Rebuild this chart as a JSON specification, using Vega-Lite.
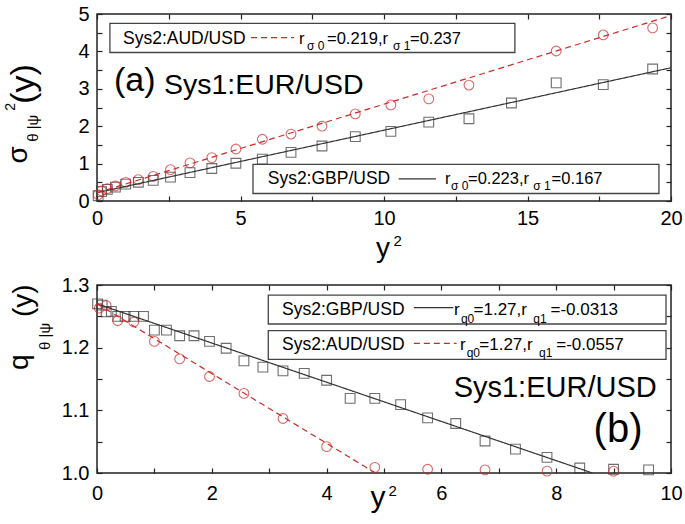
{
"$schema": "https://vega.github.io/schema/vega-lite/v6.json",
"background": "white",
"padding": {"left": 3, "top": 3, "right": 5, "bottom": 3},
"bounds": "flush",
"spacing": 84,
"config": {
  "view": {"stroke": "#222", "strokeWidth": 1.5},
  "axis": {"labelFont": "Liberation Sans", "labelFontSize": 20, "labelColor": "black", "tickColor": "#222", "tickWidth": 1.2, "grid": false, "domain": false, "title": null, "labelFlush": false, "labelOverlap": false},
  "text": {"font": "Liberation Sans", "color": "black", "align": "left", "baseline": "alphabetic"}
},
"datasets": {
  "a_pts": [
    {"pair": "GBP", "x": 0.04, "y": 0.14}, {"pair": "GBP", "x": 0.16, "y": 0.25}, {"pair": "GBP", "x": 0.36, "y": 0.31}, {"pair": "GBP", "x": 0.64, "y": 0.37},
    {"pair": "GBP", "x": 1.0, "y": 0.45}, {"pair": "GBP", "x": 1.44, "y": 0.5}, {"pair": "GBP", "x": 1.96, "y": 0.55}, {"pair": "GBP", "x": 2.56, "y": 0.64},
    {"pair": "GBP", "x": 3.24, "y": 0.76}, {"pair": "GBP", "x": 4.0, "y": 0.87}, {"pair": "GBP", "x": 4.84, "y": 1.01}, {"pair": "GBP", "x": 5.76, "y": 1.12},
    {"pair": "GBP", "x": 6.76, "y": 1.3}, {"pair": "GBP", "x": 7.84, "y": 1.47}, {"pair": "GBP", "x": 9.0, "y": 1.72}, {"pair": "GBP", "x": 10.24, "y": 1.86},
    {"pair": "GBP", "x": 11.56, "y": 2.11}, {"pair": "GBP", "x": 12.96, "y": 2.2}, {"pair": "GBP", "x": 14.44, "y": 2.62}, {"pair": "GBP", "x": 16.0, "y": 3.16},
    {"pair": "GBP", "x": 17.64, "y": 3.11}, {"pair": "GBP", "x": 19.36, "y": 3.53},
    {"pair": "AUD", "x": 0.04, "y": 0.17}, {"pair": "AUD", "x": 0.16, "y": 0.27}, {"pair": "AUD", "x": 0.36, "y": 0.33}, {"pair": "AUD", "x": 0.64, "y": 0.4},
    {"pair": "AUD", "x": 1.0, "y": 0.5}, {"pair": "AUD", "x": 1.44, "y": 0.57}, {"pair": "AUD", "x": 1.96, "y": 0.66}, {"pair": "AUD", "x": 2.56, "y": 0.84},
    {"pair": "AUD", "x": 3.24, "y": 1.02}, {"pair": "AUD", "x": 4.0, "y": 1.16}, {"pair": "AUD", "x": 4.84, "y": 1.39}, {"pair": "AUD", "x": 5.76, "y": 1.65},
    {"pair": "AUD", "x": 6.76, "y": 1.79}, {"pair": "AUD", "x": 7.84, "y": 2.0}, {"pair": "AUD", "x": 9.0, "y": 2.33}, {"pair": "AUD", "x": 10.24, "y": 2.57},
    {"pair": "AUD", "x": 11.56, "y": 2.73}, {"pair": "AUD", "x": 12.96, "y": 3.1}, {"pair": "AUD", "x": 16.0, "y": 4.01}, {"pair": "AUD", "x": 17.64, "y": 4.44},
    {"pair": "AUD", "x": 19.36, "y": 4.63}
  ],
  "a_fit": [
    {"pair": "GBP", "x": 0, "y": 0.223}, {"pair": "GBP", "x": 20, "y": 3.563},
    {"pair": "AUD", "x": 0, "y": 0.219}, {"pair": "AUD", "x": 20, "y": 4.959}
  ],
  "b_pts": [
    {"pair": "GBP", "x": 0.01, "y": 1.27}, {"pair": "GBP", "x": 0.09, "y": 1.268}, {"pair": "GBP", "x": 0.16, "y": 1.257}, {"pair": "GBP", "x": 0.25, "y": 1.258},
    {"pair": "GBP", "x": 0.36, "y": 1.25}, {"pair": "GBP", "x": 0.49, "y": 1.25}, {"pair": "GBP", "x": 0.64, "y": 1.25}, {"pair": "GBP", "x": 0.81, "y": 1.25},
    {"pair": "GBP", "x": 1.0, "y": 1.228}, {"pair": "GBP", "x": 1.21, "y": 1.228}, {"pair": "GBP", "x": 1.44, "y": 1.219}, {"pair": "GBP", "x": 1.69, "y": 1.219},
    {"pair": "GBP", "x": 1.96, "y": 1.21}, {"pair": "GBP", "x": 2.25, "y": 1.199}, {"pair": "GBP", "x": 2.56, "y": 1.179}, {"pair": "GBP", "x": 2.89, "y": 1.169},
    {"pair": "GBP", "x": 3.24, "y": 1.163}, {"pair": "GBP", "x": 3.61, "y": 1.159}, {"pair": "GBP", "x": 4.0, "y": 1.148}, {"pair": "GBP", "x": 4.41, "y": 1.119},
    {"pair": "GBP", "x": 4.84, "y": 1.119}, {"pair": "GBP", "x": 5.29, "y": 1.109}, {"pair": "GBP", "x": 5.76, "y": 1.088}, {"pair": "GBP", "x": 6.25, "y": 1.079},
    {"pair": "GBP", "x": 6.76, "y": 1.051}, {"pair": "GBP", "x": 7.29, "y": 1.038}, {"pair": "GBP", "x": 7.84, "y": 1.025}, {"pair": "GBP", "x": 8.41, "y": 1.008},
    {"pair": "GBP", "x": 9.0, "y": 1.006}, {"pair": "GBP", "x": 9.61, "y": 1.005},
    {"pair": "AUD", "x": 0.04, "y": 1.263}, {"pair": "AUD", "x": 0.16, "y": 1.267}, {"pair": "AUD", "x": 0.36, "y": 1.243}, {"pair": "AUD", "x": 0.64, "y": 1.241},
    {"pair": "AUD", "x": 1.0, "y": 1.21}, {"pair": "AUD", "x": 1.44, "y": 1.182}, {"pair": "AUD", "x": 1.96, "y": 1.154}, {"pair": "AUD", "x": 2.56, "y": 1.127},
    {"pair": "AUD", "x": 3.24, "y": 1.087}, {"pair": "AUD", "x": 4.0, "y": 1.042}, {"pair": "AUD", "x": 4.84, "y": 1.009}, {"pair": "AUD", "x": 5.76, "y": 1.006},
    {"pair": "AUD", "x": 6.76, "y": 1.005}, {"pair": "AUD", "x": 7.84, "y": 1.003}, {"pair": "AUD", "x": 9.0, "y": 1.003}
  ],
  "b_fit": [
    {"pair": "GBP", "x": 0, "y": 1.27}, {"pair": "GBP", "x": 8.63, "y": 1.0},
    {"pair": "AUD", "x": 0, "y": 1.27}, {"pair": "AUD", "x": 4.85, "y": 1.0}
  ]
},
"vconcat": [
{
  "width": 574, "height": 187,
  "resolve": {"axis": {"x": "independent", "y": "independent"}},
  "layer": [
    {"data": {"name": "a_pts"},
     "mark": {"type": "point", "filled": false, "size": 95, "strokeWidth": 1.1},
     "encoding": {
       "x": {"field": "x", "type": "quantitative", "scale": {"domain": [0, 20], "nice": false},
             "axis": {"orient": "bottom", "values": [0, 2.5, 5, 7.5, 10, 12.5, 15, 17.5, 20], "labelExpr": "datum.value % 5 === 0 ? format(datum.value, 'd') : ''", "tickSize": -5, "labelPadding": 12}},
       "y": {"field": "y", "type": "quantitative", "scale": {"domain": [0, 5], "nice": false},
             "axis": {"orient": "left", "values": [0, 0.5, 1, 1.5, 2, 2.5, 3, 3.5, 4, 4.5, 5], "labelExpr": "datum.value % 1 === 0 ? format(datum.value, 'd') : ''", "tickSize": -5, "labelPadding": 13}},
       "shape": {"field": "pair", "scale": {"domain": ["GBP", "AUD"], "range": ["square", "circle"]}, "legend": null},
       "color": {"field": "pair", "scale": {"domain": ["GBP", "AUD"], "range": ["#333333", "#cc2a2a"]}, "legend": null}
     }},
    {"data": {"name": "a_fit"},
     "mark": {"type": "line", "strokeWidth": 1.2},
     "encoding": {
       "x": {"field": "x", "type": "quantitative", "scale": {"domain": [0, 20], "nice": false},
             "axis": {"orient": "top", "values": [0, 2.5, 5, 7.5, 10, 12.5, 15, 17.5, 20], "labels": false, "tickSize": -5}},
       "y": {"field": "y", "type": "quantitative", "scale": {"domain": [0, 5], "nice": false},
             "axis": {"orient": "right", "values": [0, 0.5, 1, 1.5, 2, 2.5, 3, 3.5, 4, 4.5, 5], "labels": false, "tickSize": -5}},
       "color": {"field": "pair", "scale": {"domain": ["GBP", "AUD"], "range": ["#333333", "#cc2a2a"]}, "legend": null},
       "strokeDash": {"field": "pair", "scale": {"domain": ["GBP", "AUD"], "range": [[1, 0], [6, 4]]}, "legend": null}
     }},
    {"data": {"values": [{}]}, "mark": {"type": "rect", "fillOpacity": 0, "stroke": "#444", "strokeWidth": 1.3},
     "encoding": {"x": {"datum": 0.45, "type": "quantitative", "axis": null}, "x2": {"datum": 14.56}, "y": {"datum": 3.97, "type": "quantitative", "axis": null}, "y2": {"datum": 4.75}}},
    {"data": {"values": [{}]}, "mark": {"type": "rect", "fillOpacity": 0, "stroke": "#444", "strokeWidth": 1.3},
     "encoding": {"x": {"datum": 5.435, "type": "quantitative", "axis": null}, "x2": {"datum": 19.58}, "y": {"datum": 0.2, "type": "quantitative", "axis": null}, "y2": {"datum": 0.98}}},
    {"data": {"values": [{}]}, "mark": {"type": "rule", "stroke": "#cc2a2a", "strokeWidth": 1.2, "strokeDash": [6, 4]},
     "encoding": {"x": {"datum": 5.366, "type": "quantitative", "axis": null}, "x2": {"datum": 6.864}, "y": {"datum": 4.37, "type": "quantitative", "axis": null}}},
    {"data": {"values": [{}]}, "mark": {"type": "rule", "stroke": "#333333", "strokeWidth": 1.2},
     "encoding": {"x": {"datum": 10.51, "type": "quantitative", "axis": null}, "x2": {"datum": 11.81}, "y": {"datum": 0.59, "type": "quantitative", "axis": null}}},
    {"data": {"values": [{}]}, "mark": {"type": "text", "text": "Sys2:AUD/USD", "fontSize": 17.5},
     "encoding": {"x": {"datum": 0.906, "type": "quantitative", "axis": null}, "y": {"datum": 4.196, "type": "quantitative", "axis": null}}},
    {"data": {"values": [{}]}, "mark": {"type": "text", "text": "r", "fontSize": 16.5},
     "encoding": {"x": {"datum": 7.038, "type": "quantitative", "axis": null}, "y": {"datum": 4.196, "type": "quantitative", "axis": null}}},
    {"data": {"values": [{}]}, "mark": {"type": "text", "text": "σ 0", "fontSize": 12},
     "encoding": {"x": {"datum": 7.317, "type": "quantitative", "axis": null}, "y": {"datum": 4.04, "type": "quantitative", "axis": null}}},
    {"data": {"values": [{}]}, "mark": {"type": "text", "text": "=0.219,r", "fontSize": 16.5},
     "encoding": {"x": {"datum": 8.014, "type": "quantitative", "axis": null}, "y": {"datum": 4.196, "type": "quantitative", "axis": null}}},
    {"data": {"values": [{}]}, "mark": {"type": "text", "text": "σ 1", "fontSize": 12},
     "encoding": {"x": {"datum": 10.314, "type": "quantitative", "axis": null}, "y": {"datum": 4.04, "type": "quantitative", "axis": null}}},
    {"data": {"values": [{}]}, "mark": {"type": "text", "text": "=0.237", "fontSize": 16.5},
     "encoding": {"x": {"datum": 10.906, "type": "quantitative", "axis": null}, "y": {"datum": 4.196, "type": "quantitative", "axis": null}}},
    {"data": {"values": [{}]}, "mark": {"type": "text", "text": "Sys2:GBP/USD", "fontSize": 17.5},
     "encoding": {"x": {"datum": 5.948, "type": "quantitative", "axis": null}, "y": {"datum": 0.448, "type": "quantitative", "axis": null}}},
    {"data": {"values": [{}]}, "mark": {"type": "text", "text": "r", "fontSize": 16.5},
     "encoding": {"x": {"datum": 12.125, "type": "quantitative", "axis": null}, "y": {"datum": 0.448, "type": "quantitative", "axis": null}}},
    {"data": {"values": [{}]}, "mark": {"type": "text", "text": "σ 0", "fontSize": 12},
     "encoding": {"x": {"datum": 12.334, "type": "quantitative", "axis": null}, "y": {"datum": 0.287, "type": "quantitative", "axis": null}}},
    {"data": {"values": [{}]}, "mark": {"type": "text", "text": "=0.223,r", "fontSize": 16.5},
     "encoding": {"x": {"datum": 12.927, "type": "quantitative", "axis": null}, "y": {"datum": 0.448, "type": "quantitative", "axis": null}}},
    {"data": {"values": [{}]}, "mark": {"type": "text", "text": "σ 1", "fontSize": 12},
     "encoding": {"x": {"datum": 15.2, "type": "quantitative", "axis": null}, "y": {"datum": 0.287, "type": "quantitative", "axis": null}}},
    {"data": {"values": [{}]}, "mark": {"type": "text", "text": "=0.167", "fontSize": 16.5},
     "encoding": {"x": {"datum": 15.84, "type": "quantitative", "axis": null}, "y": {"datum": 0.448, "type": "quantitative", "axis": null}}},
    {"data": {"values": [{}]}, "mark": {"type": "text", "text": "(a)", "fontSize": 34},
     "encoding": {"x": {"datum": 0.592, "type": "quantitative", "axis": null}, "y": {"datum": 2.93, "type": "quantitative", "axis": null}}},
    {"data": {"values": [{}]}, "mark": {"type": "text", "text": "Sys1:EUR/USD", "fontSize": 28.5},
     "encoding": {"x": {"datum": 2.334, "type": "quantitative", "axis": null}, "y": {"datum": 2.86, "type": "quantitative", "axis": null}}},
    {"data": {"values": [{}]}, "mark": {"type": "text", "text": "σ", "fontSize": 28, "angle": 270},
     "encoding": {"x": {"datum": -2.45, "type": "quantitative", "axis": null}, "y": {"datum": 1.0, "type": "quantitative", "axis": null}}},
    {"data": {"values": [{}]}, "mark": {"type": "text", "text": "θ |ψ", "fontSize": 15, "angle": 270},
     "encoding": {"x": {"datum": -2.056, "type": "quantitative", "axis": null}, "y": {"datum": 1.582, "type": "quantitative", "axis": null}}},
    {"data": {"values": [{}]}, "mark": {"type": "text", "text": "2", "fontSize": 14, "angle": 270},
     "encoding": {"x": {"datum": -2.84, "type": "quantitative", "axis": null}, "y": {"datum": 2.41, "type": "quantitative", "axis": null}}},
    {"data": {"values": [{}]}, "mark": {"type": "text", "text": "(y)", "fontSize": 34, "angle": 270},
     "encoding": {"x": {"datum": -2.2, "type": "quantitative", "axis": null}, "y": {"datum": 2.6, "type": "quantitative", "axis": null}}},
    {"data": {"values": [{}]}, "mark": {"type": "text", "text": "y", "fontSize": 28},
     "encoding": {"x": {"datum": 9.72, "type": "quantitative", "axis": null}, "y": {"datum": -1.5, "type": "quantitative", "axis": null}}},
    {"data": {"values": [{}]}, "mark": {"type": "text", "text": "2", "fontSize": 15},
     "encoding": {"x": {"datum": 10.33, "type": "quantitative", "axis": null}, "y": {"datum": -1.21, "type": "quantitative", "axis": null}}}
  ]
},
{
  "width": 574, "height": 188,
  "resolve": {"axis": {"x": "independent", "y": "independent"}},
  "layer": [
    {"data": {"name": "b_pts"},
     "mark": {"type": "point", "filled": false, "size": 95, "strokeWidth": 1.1},
     "encoding": {
       "x": {"field": "x", "type": "quantitative", "scale": {"domain": [0, 10], "nice": false},
             "axis": {"orient": "bottom", "values": [0, 1, 2, 3, 4, 5, 6, 7, 8, 9, 10], "labelExpr": "datum.value % 2 === 0 ? format(datum.value, 'd') : ''", "tickSize": -5, "labelPadding": 15}},
       "y": {"field": "y", "type": "quantitative", "scale": {"domain": [1.0, 1.3], "nice": false, "zero": false},
             "axis": {"orient": "left", "values": [1.0, 1.05, 1.1, 1.15, 1.2, 1.25, 1.3], "labelExpr": "abs(datum.value * 10 - round(datum.value * 10)) < 0.001 ? format(datum.value, '.1f') : ''", "tickSize": -5, "labelPadding": 13}},
       "shape": {"field": "pair", "scale": {"domain": ["GBP", "AUD"], "range": ["square", "circle"]}, "legend": null},
       "color": {"field": "pair", "scale": {"domain": ["GBP", "AUD"], "range": ["#333333", "#cc2a2a"]}, "legend": null}
     }},
    {"data": {"name": "b_fit"},
     "mark": {"type": "line", "strokeWidth": 1.2},
     "encoding": {
       "x": {"field": "x", "type": "quantitative", "scale": {"domain": [0, 10], "nice": false},
             "axis": {"orient": "top", "values": [0, 1, 2, 3, 4, 5, 6, 7, 8, 9, 10], "labels": false, "tickSize": -5}},
       "y": {"field": "y", "type": "quantitative", "scale": {"domain": [1.0, 1.3], "nice": false, "zero": false},
             "axis": {"orient": "right", "values": [1.0, 1.05, 1.1, 1.15, 1.2, 1.25, 1.3], "labels": false, "tickSize": -5}},
       "color": {"field": "pair", "scale": {"domain": ["GBP", "AUD"], "range": ["#333333", "#cc2a2a"]}, "legend": null},
       "strokeDash": {"field": "pair", "scale": {"domain": ["GBP", "AUD"], "range": [[1, 0], [6, 4]]}, "legend": null}
     }},
    {"data": {"values": [{}]}, "mark": {"type": "rect", "fillOpacity": 0, "stroke": "#444", "strokeWidth": 1.3},
     "encoding": {"x": {"datum": 2.984, "type": "quantitative", "axis": null}, "x2": {"datum": 9.913}, "y": {"datum": 1.2378, "type": "quantitative", "axis": null}, "y2": {"datum": 1.284}}},
    {"data": {"values": [{}]}, "mark": {"type": "rect", "fillOpacity": 0, "stroke": "#444", "strokeWidth": 1.3},
     "encoding": {"x": {"datum": 2.984, "type": "quantitative", "axis": null}, "x2": {"datum": 9.913}, "y": {"datum": 1.1814, "type": "quantitative", "axis": null}, "y2": {"datum": 1.2271}}},
    {"data": {"values": [{}]}, "mark": {"type": "rule", "stroke": "#333333", "strokeWidth": 1.2},
     "encoding": {"x": {"datum": 5.52, "type": "quantitative", "axis": null}, "x2": {"datum": 6.208}, "y": {"datum": 1.2638, "type": "quantitative", "axis": null}}},
    {"data": {"values": [{}]}, "mark": {"type": "rule", "stroke": "#cc2a2a", "strokeWidth": 1.2, "strokeDash": [6, 4]},
     "encoding": {"x": {"datum": 5.52, "type": "quantitative", "axis": null}, "x2": {"datum": 6.265}, "y": {"datum": 1.207, "type": "quantitative", "axis": null}}},
    {"data": {"values": [{}]}, "mark": {"type": "text", "text": "Sys2:GBP/USD", "fontSize": 17.5},
     "encoding": {"x": {"datum": 3.223, "type": "quantitative", "axis": null}, "y": {"datum": 1.2521, "type": "quantitative", "axis": null}}},
    {"data": {"values": [{}]}, "mark": {"type": "text", "text": "r", "fontSize": 17},
     "encoding": {"x": {"datum": 6.218, "type": "quantitative", "axis": null}, "y": {"datum": 1.2521, "type": "quantitative", "axis": null}}},
    {"data": {"values": [{}]}, "mark": {"type": "text", "text": "q0", "fontSize": 12},
     "encoding": {"x": {"datum": 6.34, "type": "quantitative", "axis": null}, "y": {"datum": 1.2398, "type": "quantitative", "axis": null}}},
    {"data": {"values": [{}]}, "mark": {"type": "text", "text": "=1.27,r", "fontSize": 17},
     "encoding": {"x": {"datum": 6.56, "type": "quantitative", "axis": null}, "y": {"datum": 1.2521, "type": "quantitative", "axis": null}}},
    {"data": {"values": [{}]}, "mark": {"type": "text", "text": "q1", "fontSize": 12},
     "encoding": {"x": {"datum": 7.6, "type": "quantitative", "axis": null}, "y": {"datum": 1.2398, "type": "quantitative", "axis": null}}},
    {"data": {"values": [{}]}, "mark": {"type": "text", "text": "=-0.0313", "fontSize": 17},
     "encoding": {"x": {"datum": 7.9, "type": "quantitative", "axis": null}, "y": {"datum": 1.2521, "type": "quantitative", "axis": null}}},
    {"data": {"values": [{}]}, "mark": {"type": "text", "text": "Sys2:AUD/USD", "fontSize": 17.5},
     "encoding": {"x": {"datum": 3.223, "type": "quantitative", "axis": null}, "y": {"datum": 1.1963, "type": "quantitative", "axis": null}}},
    {"data": {"values": [{}]}, "mark": {"type": "text", "text": "r", "fontSize": 17},
     "encoding": {"x": {"datum": 6.323, "type": "quantitative", "axis": null}, "y": {"datum": 1.1963, "type": "quantitative", "axis": null}}},
    {"data": {"values": [{}]}, "mark": {"type": "text", "text": "q0", "fontSize": 12},
     "encoding": {"x": {"datum": 6.44, "type": "quantitative", "axis": null}, "y": {"datum": 1.1846, "type": "quantitative", "axis": null}}},
    {"data": {"values": [{}]}, "mark": {"type": "text", "text": "=1.27,r", "fontSize": 17},
     "encoding": {"x": {"datum": 6.66, "type": "quantitative", "axis": null}, "y": {"datum": 1.1963, "type": "quantitative", "axis": null}}},
    {"data": {"values": [{}]}, "mark": {"type": "text", "text": "q1", "fontSize": 12},
     "encoding": {"x": {"datum": 7.7, "type": "quantitative", "axis": null}, "y": {"datum": 1.1846, "type": "quantitative", "axis": null}}},
    {"data": {"values": [{}]}, "mark": {"type": "text", "text": "=-0.0557", "fontSize": 17},
     "encoding": {"x": {"datum": 8.0, "type": "quantitative", "axis": null}, "y": {"datum": 1.1963, "type": "quantitative", "axis": null}}},
    {"data": {"values": [{}]}, "mark": {"type": "text", "text": "Sys1:EUR/USD", "fontSize": 29},
     "encoding": {"x": {"datum": 6.213, "type": "quantitative", "axis": null}, "y": {"datum": 1.1218, "type": "quantitative", "axis": null}}},
    {"data": {"values": [{}]}, "mark": {"type": "text", "text": "(b)", "fontSize": 40},
     "encoding": {"x": {"datum": 8.651, "type": "quantitative", "axis": null}, "y": {"datum": 1.05, "type": "quantitative", "axis": null}}},
    {"data": {"values": [{}]}, "mark": {"type": "text", "text": "q", "fontSize": 28, "angle": 270},
     "encoding": {"x": {"datum": -1.204, "type": "quantitative", "axis": null}, "y": {"datum": 1.1644, "type": "quantitative", "axis": null}}},
    {"data": {"values": [{}]}, "mark": {"type": "text", "text": "θ |ψ", "fontSize": 15, "angle": 270},
     "encoding": {"x": {"datum": -0.82, "type": "quantitative", "axis": null}, "y": {"datum": 1.1963, "type": "quantitative", "axis": null}}},
    {"data": {"values": [{}]}, "mark": {"type": "text", "text": "(y)", "fontSize": 28, "angle": 270},
     "encoding": {"x": {"datum": -1.134, "type": "quantitative", "axis": null}, "y": {"datum": 1.2489, "type": "quantitative", "axis": null}}},
    {"data": {"values": [{}]}, "mark": {"type": "text", "text": "y", "fontSize": 30},
     "encoding": {"x": {"datum": 4.764, "type": "quantitative", "axis": null}, "y": {"datum": 0.9458, "type": "quantitative", "axis": null}}},
    {"data": {"values": [{}]}, "mark": {"type": "text", "text": "2", "fontSize": 15},
     "encoding": {"x": {"datum": 5.079, "type": "quantitative", "axis": null}, "y": {"datum": 0.9633, "type": "quantitative", "axis": null}}}
  ]
}
]
}
